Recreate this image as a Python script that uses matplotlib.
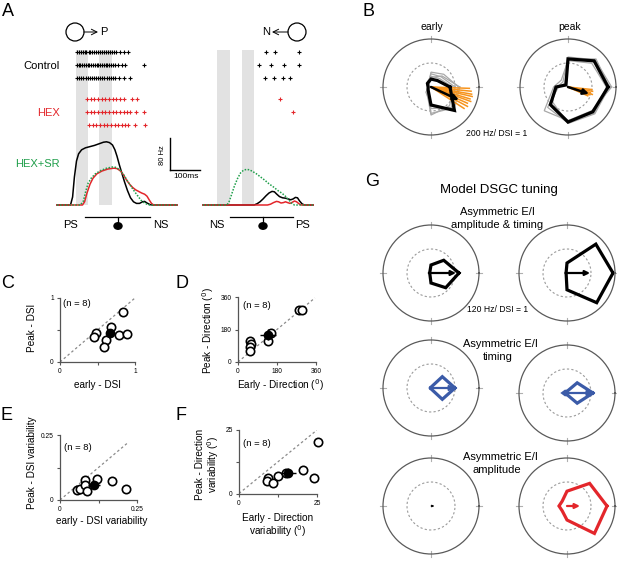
import numpy as np
import matplotlib
matplotlib.use('Agg')
import matplotlib.pyplot as plt
from matplotlib.patches import Circle, Ellipse

plt.rcParams['font.family'] = ['Liberation Sans', 'DejaVu Sans']

W, H = 617, 577

# ---------------- panel A : firing rate traces (t in ms, rate in Hz) ----------------
# preferred side (PS -> NS)
pd_black_t = [0, 45, 52, 58, 65, 72, 82, 95, 110, 125, 140, 155, 165, 175, 185, 193, 200, 208, 216, 225,
              235, 245, 255, 265, 275, 285, 292, 300, 310, 320, 400]
pd_black_r = [0, 0, 20, 70, 110, 128, 138, 143, 146, 149, 153, 157, 158, 156, 150, 138, 122, 100, 80, 58,
              36, 18, 8, 4, 4, 8, 9, 5, 1, 0, 0]
pd_red_t = [0, 85, 92, 100, 110, 120, 133, 150, 170, 190, 200, 212, 222, 232, 242, 252, 262, 272, 282, 292,
            300, 308, 315, 322, 400]
pd_red_r = [0, 0, 8, 30, 52, 67, 78, 85, 90, 92, 91, 85, 75, 62, 52, 44, 38, 34, 30, 27, 22, 12, 4, 0, 0]
pd_green_t = [0, 78, 88, 96, 104, 115, 128, 145, 165, 185, 198, 210, 222, 235, 248, 260, 270, 280, 290, 300,
              310, 400]
pd_green_r = [0, 0, 10, 35, 55, 68, 78, 86, 92, 95, 94, 87, 76, 60, 45, 32, 22, 12, 6, 2, 0, 0]

# null side (NS -> PS)
nd_black_t = [0, 170, 180, 190, 200, 210, 220, 230, 238, 246, 255, 265, 275, 285, 292, 300, 308, 315, 322,
              330, 338, 367]
nd_black_r = [0, 0, 3, 8, 15, 23, 30, 34, 33, 27, 21, 18, 17, 15, 13, 15, 19, 18, 10, 3, 0, 0]
nd_red_t = [0, 215, 225, 235, 245, 252, 260, 268, 275, 282, 290, 298, 305, 312, 320, 328, 367]
nd_red_r = [0, 0, 2, 6, 9, 8, 5, 6, 8, 6, 4, 7, 10, 8, 3, 0, 0]
nd_green_t = [0, 80, 88, 96, 105, 115, 125, 135, 145, 155, 165, 178, 192, 206, 220, 235, 250, 262, 272, 282,
              290, 297, 305, 367]
nd_green_r = [0, 0, 10, 28, 48, 66, 80, 87, 89, 88, 84, 78, 70, 62, 53, 45, 36, 30, 24, 16, 9, 3, 0, 0]

# spike rasters (ms)
pd_ctrl_spikes = [
    [67, 73, 79, 85, 92, 98, 105, 111, 118, 124, 131, 137, 143, 150, 157, 163, 170, 177, 183, 190, 197, 210, 223, 237],
    [67, 72, 78, 84, 90, 96, 102, 108, 114, 120, 126, 132, 138, 144, 150, 156, 162, 168, 174, 180, 187, 194, 203,
     217, 227, 290],
    [67, 74, 81, 88, 95, 102, 109, 116, 123, 130, 137, 144, 151, 158, 165, 172, 179, 186, 193, 207, 223, 243],
]
pd_hex_spikes = [
    [100, 112, 124, 137, 149, 161, 173, 186, 198, 210, 222, 250, 267],
    [100, 112, 124, 137, 149, 161, 173, 186, 198, 210, 222, 233, 243, 263, 290],
    [107, 119, 131, 143, 155, 167, 180, 192, 204, 216, 228, 237, 260, 293],
]
nd_ctrl_spikes = [[210, 240, 320], [187, 227, 270, 320], [207, 237, 267, 290]]
nd_hex_spikes = [[257], [300], []]

pd_bars = [(63, 103), (140, 183)]
nd_bars = [(47, 90), (130, 170)]

# ---------------- panel B : polar tuning (Hz) ----------------
dirs = [0, 45, 90, 135, 180, 225, 270, 315]
early_mean = [79, 38, 33, 21, 12, 17, 75, 138]
early_cells = [
    [100, 60, 55, 18, 10, 20, 110, 125],
    [115, 75, 62, 15, 12, 15, 90, 120],
    [90, 50, 45, 25, 15, 25, 117, 110],
    [120, 65, 40, 12, 8, 30, 80, 135],
]
early_vec_angle, early_vec_dsi = -25, 0.64
early_cell_angle = [-2, -6, -10, -13, -17, -20, -24, -28, -33]
early_cell_dsi = [0.80, 0.84, 0.86, 0.88, 0.85, 0.88, 0.83, 0.86, 0.82]

peak_mean = [167, 154, 117, 12, 50, 104, 146, 146]
peak_cells = [
    [175, 150, 122, 20, 40, 120, 150, 150],
    [182, 160, 125, 30, 45, 100, 140, 140],
    [160, 140, 110, 40, 60, 140, 140, 155],
    [172, 165, 118, 15, 55, 90, 152, 158],
]
peak_vec_angle, peak_vec_dsi = -18, 0.46
peak_cell_angle = [-6, -10, -14, -17, -20, -24]
peak_cell_dsi = [0.50, 0.52, 0.48, 0.53, 0.47, 0.45]

# ---------------- panel G : model tuning (Hz) ----------------
both_early = [70, 45, 20, 4, 4, 4, 25, 52]
both_peak = [115, 102, 25, 3, 3, 3, 42, 105]
timing_early = [60, 40, 2, 2, 2, 2, 2, 40]
timing_peak = [65, 36, 4, 6, 10, 6, 4, 36]
amp_early = [0, 0, 0, 0, 0, 0, 0, 0]
amp_peak = [100, 80, 37, 17, 20, 17, 35, 97]
model_dsi = [0.52, 0.48, 0.50, 0.54, 0.07, 0.27]

# ---------------- panels C-F : population scatter ----------------
dsi_early = [0.48, 0.45, 0.68, 0.61, 0.58, 0.79, 0.89, 0.84]
dsi_peak = [0.46, 0.39, 0.54, 0.34, 0.24, 0.42, 0.44, 0.78]
dir_early = [57, 62, 54, 57, 154, 138, 280, 297]
dir_peak = [117, 102, 83, 61, 158, 117, 288, 288]
dsivar_early = [0.055, 0.065, 0.080, 0.081, 0.089, 0.119, 0.168, 0.214]
dsivar_peak = [0.040, 0.042, 0.077, 0.058, 0.033, 0.080, 0.074, 0.044]
dirvar_early = [9.3, 9.0, 10.9, 12.5, 15.0, 20.4, 24.0, 25.4]
dirvar_peak = [6.0, 4.9, 4.1, 6.9, 8.0, 9.3, 6.0, 20.4]

RED = '#e3262b'
GREEN = '#1f9e4a'
BLUE = '#3b5ba8'

fig = plt.figure(figsize=(W / 100, H / 100), dpi=100)


def px_axes(x0, y0, w, h, **kw):
    return fig.add_axes([x0 / W, 1 - (y0 + h) / H, w / W, h / H], **kw)


deco = px_axes(0, 0, W, H)
deco.set_xlim(0, W)
deco.set_ylim(H, 0)
deco.axis('off')


def txt(x, y, s, **kw):
    kw.setdefault('ha', 'center')
    kw.setdefault('va', 'center')
    deco.text(x, y, s, **kw)


# ---------- A ----------
def trace_panel(x0, tmax, bars, curves, ctrl, hexs):
    ax = px_axes(x0, 50, tmax * 0.3, 155)
    ax.set_xlim(0, tmax)
    ax.set_ylim(0, 387.5)
    ax.axis('off')
    for a, b in bars:
        ax.axvspan(a, b, color='#e2e2e2', lw=0, zorder=0)
    for t, r, c, ls in curves:
        ax.plot(t, r, color=c, lw=1.1, ls=ls, clip_on=False)
    for rows, c, y0 in [(ctrl, 'black', 46), (hexs, RED, 93)]:
        rax = px_axes(x0, y0, tmax * 0.3, 38)
        rax.set_xlim(0, tmax)
        rax.set_ylim(2.5, -0.5)
        rax.axis('off')
        for i, sp in enumerate(rows):
            rax.plot(sp, [i] * len(sp), ls='none', marker='+', ms=2.3, mew=0.8, color=c)
    return ax


axl = trace_panel(57, 400, pd_bars,
                  [(pd_black_t, pd_black_r, 'black', '-'),
                   (pd_red_t, pd_red_r, RED, '-'),
                   (pd_green_t, pd_green_r, GREEN, (0, (1, 1)))],
                  pd_ctrl_spikes, pd_hex_spikes)
axr = trace_panel(203, 367, nd_bars,
                  [(nd_black_t, nd_black_r, 'black', '-'),
                   (nd_red_t, nd_red_r, RED, '-'),
                   (nd_green_t, nd_green_r, GREEN, (0, (1, 1)))],
                  nd_ctrl_spikes, nd_hex_spikes)

# scale bar: 100 ms x 80 Hz
axl.plot([377, 377], [87.5, 167.5], color='black', lw=1, clip_on=False)
axl.plot([377, 477], [87.5, 87.5], color='black', lw=1, clip_on=False)
txt(162.5, 155, '80 Hz', fontsize=5.5, rotation=90)
txt(186, 177, '100ms', fontsize=6)

txt(8, 11, 'A', fontsize=13)
txt(60, 66, 'Control', fontsize=8, ha='right')
txt(60, 113, 'HEX', fontsize=8, ha='right', color=RED)
txt(60, 164, 'HEX+SR', fontsize=8, ha='right', color=GREEN)

# stimulus icons
deco.add_patch(Circle((75, 32), 9, fill=False, lw=0.9, color='black'))
deco.annotate('', xy=(98, 32), xytext=(84, 32),
              arrowprops=dict(arrowstyle='->', lw=0.7, color='black', shrinkA=0, shrinkB=0))
txt(104, 32, 'P', fontsize=8)
deco.add_patch(Circle((297, 32), 9, fill=False, lw=0.9, color='black'))
deco.annotate('', xy=(272, 32), xytext=(288, 32),
              arrowprops=dict(arrowstyle='->', lw=0.7, color='black', shrinkA=0, shrinkB=0))
txt(266, 32, 'N', fontsize=8)

for (xa, xb, xc, lab_l, lab_r, xl, xr) in [(85, 150, 118, 'PS', 'NS', 70, 161),
                                           (230, 293, 263, 'NS', 'PS', 217, 303)]:
    deco.plot([xa, xb], [216.5, 216.5], color='black', lw=0.9)
    deco.plot([xc, xc], [216.5, 223], color='black', lw=0.9)
    deco.add_patch(Ellipse((xc, 226), 8, 6.5, color='black'))
    txt(xl, 225, lab_l, fontsize=8)
    txt(xr, 225, lab_r, fontsize=8)


# ---------- polar helpers ----------
def polar_axes(cx, cy, rmax, rpx=48):
    ax = px_axes(cx - rpx, cy - rpx, 2 * rpx, 2 * rpx, projection='polar')
    ax.set_ylim(0, rmax)
    ax.set_xticks([])
    ax.set_yticks([])
    ax.grid(False)
    ax.spines['polar'].set_color('#5a5a5a')
    ax.spines['polar'].set_linewidth(0.9)
    th = np.linspace(0, 2 * np.pi, 200)
    ax.plot(th, np.full_like(th, rmax / 2), ls=(0, (2, 2)), color='#9a9a9a', lw=0.8)
    for a in [0, 90, 180, 270]:
        ax.plot([np.deg2rad(a)] * 2, [rmax * 0.93, rmax * 1.07], color='#b0b0b0', lw=0.8, clip_on=False)
    return ax


def tuning(ax, rates, **kw):
    th = np.deg2rad(dirs + [dirs[0]])
    ax.plot(th, list(rates) + [rates[0]], solid_joinstyle='miter', **kw)


def vector(ax, angle, dsi, rmax, color, lw=1.6, ms=7):
    ax.annotate('', xy=(np.deg2rad(angle), dsi * rmax), xytext=(0, 0),
                arrowprops=dict(arrowstyle='-|>', color=color, lw=lw, shrinkA=0, shrinkB=0,
                                mutation_scale=ms))


# ---------- B ----------
txt(369, 12, 'B', fontsize=13)
txt(432, 27, 'early', fontsize=7.5)
txt(570, 27, 'peak', fontsize=7.5)
txt(497, 134, '200 Hz/ DSI = 1', fontsize=6.2)

for cx, mean, cells, ang, dsi, c_ang, c_dsi in [
        (431, early_mean, early_cells, early_vec_angle, early_vec_dsi, early_cell_angle, early_cell_dsi),
        (568, peak_mean, peak_cells, peak_vec_angle, peak_vec_dsi, peak_cell_angle, peak_cell_dsi)]:
    ax = polar_axes(cx, 87, 200)
    for cell in cells:
        tuning(ax, cell, color='#a8a8a8', lw=0.9)
    for a, d in zip(c_ang, c_dsi):
        ax.plot([0, np.deg2rad(a)], [0, d * 200], color='#f7941d', lw=1.1)
    tuning(ax, mean, color='black', lw=2.3)
    vector(ax, ang, dsi, 200, 'black', lw=1.8, ms=8)

# ---------- G ----------
txt(372, 182, 'G', fontsize=13)
txt(499, 190, 'Model DSGC tuning', fontsize=9.5)
txt(497, 212, 'Asymmetric E/I', fontsize=8)
txt(497, 225, 'amplitude & timing', fontsize=8)
txt(498, 310, '120 Hz/ DSI = 1', fontsize=6.2)
txt(500, 344, 'Asymmetric E/I', fontsize=8)
txt(498, 357, 'timing', fontsize=8)
txt(500, 457, 'Asymmetric E/I', fontsize=8)
txt(497, 470, 'amplitude', fontsize=8)

model = [(431, 273, both_early, 'black'), (567, 273, both_peak, 'black'),
         (431, 388, timing_early, BLUE), (567, 393, timing_peak, BLUE),
         (431, 506, amp_early, 'black'), (567, 506, amp_peak, RED)]
for (cx, cy, rates, col), dsi in zip(model, model_dsi):
    ax = polar_axes(cx, cy, 120)
    if max(rates) > 0:
        tuning(ax, rates, color=col, lw=2.3)
    if dsi > 0.1:
        vector(ax, 0, dsi, 120, col, lw=1.6, ms=7)
    else:
        vector(ax, 0, dsi, 120, col, lw=0.7, ms=3)


# ---------- C-F ----------
def scatter_panel(x0, y0, w, h, xs, ys, lim, tick_labels, diag_end):
    ax = px_axes(x0, y0, w, h)
    ax.set_xlim(0, lim)
    ax.set_ylim(0, lim)
    ax.set_facecolor('none')
    ax.plot([0, diag_end], [0, diag_end], ls=(0, (2, 2)), color='#8a8a8a', lw=0.9, zorder=1)
    ax.plot(xs, ys, 'o', mfc='white', mec='black', ms=6, mew=1.2, clip_on=False, zorder=3)
    xs, ys = np.array(xs), np.array(ys)
    sx = xs.std(ddof=1) / np.sqrt(len(xs))
    sy = ys.std(ddof=1) / np.sqrt(len(ys))
    ax.errorbar(xs.mean(), ys.mean(), xerr=sx, yerr=sy, fmt='o', color='black', ms=6,
                elinewidth=1, capsize=0, zorder=4)
    for s in ['top', 'right']:
        ax.spines[s].set_visible(False)
    for s in ['left', 'bottom']:
        ax.spines[s].set_color('#555555')
        ax.spines[s].set_linewidth(0.9)
    ticks = [0, lim / 2, lim]
    ax.set_xticks(ticks)
    ax.set_yticks(ticks)
    ax.set_xticklabels(tick_labels)
    ax.set_yticklabels(tick_labels)
    ax.tick_params(length=2.5, width=0.8, color='#555555', labelsize=4.8, pad=2)
    return ax


lab = dict(fontsize=7.2)
scatter_panel(60, 298, 75, 64, dsi_early, dsi_peak, 1, ['0', '', '1'], 1.02)
txt(8, 284, 'C', fontsize=13)
txt(77, 304, '(n = 8)', fontsize=6.8)
txt(97, 385, 'early - DSI', **lab)
txt(32, 328, 'Peak - DSI', rotation=90, **lab)

scatter_panel(238, 297, 78, 65, dir_early, dir_peak, 360, ['0', '180', '360'], 355)
txt(182, 284, 'D', fontsize=13)
txt(257, 305, '(n = 8)', fontsize=6.8)
txt(280, 385, 'Early - Direction ($^0$)', **lab)
txt(208, 331, 'Peak - Direction ($^0$)', rotation=90, **lab)

scatter_panel(60, 435, 77, 65, dsivar_early, dsivar_peak, 0.25, ['0', '', '0.25'], 0.22)
txt(7, 416, 'E', fontsize=13)
txt(78, 448, '(n = 8)', fontsize=6.8)
txt(102, 521, 'early - DSI variability', **lab)
txt(32, 463, 'Peak - DSI variability', rotation=90, **lab)

scatter_panel(239, 430, 78, 63.5, dirvar_early, dirvar_peak, 25, ['0', '', '25'], 25)
txt(181, 416, 'F', fontsize=13)
txt(257, 443, '(n = 8)', fontsize=6.8)
txt(278, 526, 'Early - Direction\nvariability ($^0$)', linespacing=1.1, **lab)
txt(208, 464, 'Peak - Direction\nvariability ($^0$)', rotation=90, linespacing=1.1, **lab)

fig.savefig('out.png', dpi=100)
